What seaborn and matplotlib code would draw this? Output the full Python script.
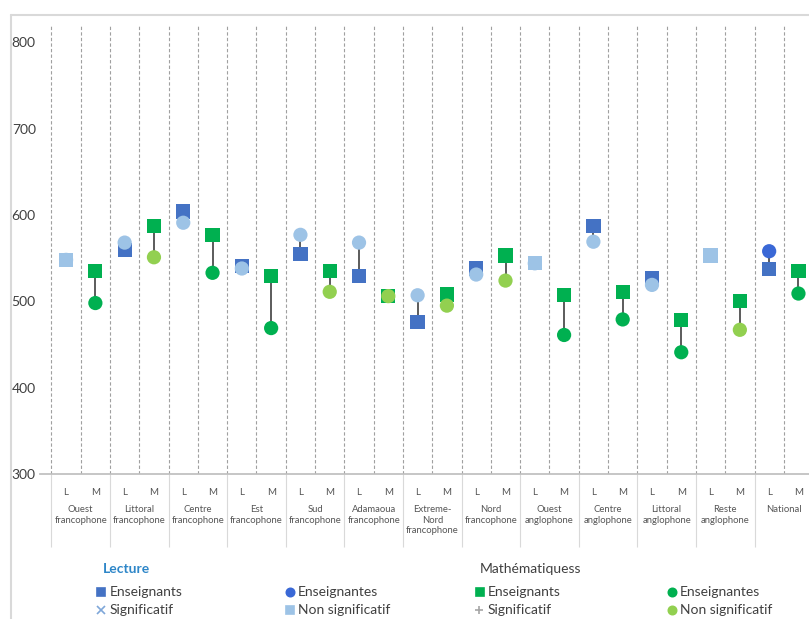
import numpy as np
import pandas as pd
import matplotlib
matplotlib.use("Agg")
import matplotlib.pyplot as plt
import seaborn as sns
from matplotlib.lines import Line2D

sns.set_theme(style="white")
plt.rcParams['font.family'] = ['Lato', 'DejaVu Sans']

# donnees
regions = ['Ouest\nfrancophone', 'Littoral\nfrancophone', 'Centre\nfrancophone', 'Est\nfrancophone',
           'Sud\nfrancophone', 'Adamaoua\nfrancophone', 'Extreme-\nNord\nfrancophone', 'Nord\nfrancophone',
           'Ouest\nanglophone', 'Centre\nanglophone', 'Littoral\nanglophone', 'Reste\nanglophone', 'National']
lecture_h = [548, 559, 604, 541, 555, 529, 476, 538, 544, 587, 527, 553, 537]
lecture_f = [548, 568, 591, 538, 577, 568, 507, 531, 544, 569, 519, 553, 558]
maths_h = [535, 587, 577, 529, 535, 506, 508, 553, 507, 511, 478, 500, 535]
maths_f = [498, 551, 533, 469, 511, 506, 495, 524, 461, 479, 441, 467, 509]
sig_lecture_h = [False, True, True, True, True, True, True, True, False, True, True, False, True]
sig_lecture_f = [False] * 12 + [True]
sig_maths_h = [True] * 13
sig_maths_f = [True, False, True, True, False, False, False, False, True, True, True, False, True]
yticks = [300, 400, 500, 600, 700, 800]

couleurs = {'L_h_sig': '#4472c4', 'L_f_sig': '#3a68d6', 'L_ns': '#9dc3e6',
            'M_sig': '#00b050', 'M_ns': '#92d050'}

def teinte(disc, genre, sig):
    if disc == 'L':
        if not sig:
            return 'L_ns'
        return 'L_h_sig' if genre == 'Enseignants' else 'L_f_sig'
    return 'M_sig' if sig else 'M_ns'

# tableau long : carres d'abord, cercles ensuite (dessines par-dessus)
lignes = []
for genre, vl, vm, sl, sm in [('Enseignants', lecture_h, maths_h, sig_lecture_h, sig_maths_h),
                              ('Enseignantes', lecture_f, maths_f, sig_lecture_f, sig_maths_f)]:
    for i in range(len(regions)):
        lignes.append({'pos': 2 * i, 'score': vl[i], 'genre': genre, 'teinte': teinte('L', genre, sl[i])})
        lignes.append({'pos': 2 * i + 1, 'score': vm[i], 'genre': genre, 'teinte': teinte('M', genre, sm[i])})
df = pd.DataFrame(lignes)

W, H = 809, 619
fig = plt.figure(figsize=(W / 100, H / 100), dpi=100)
ax = fig.add_axes([40 / W, 1 - 474 / H, 769 / W, 449 / H])

n = 2 * len(regions)
# lignes pointillees entre les categories
ax.vlines(np.arange(-0.5, n), 300, 820, colors='#a0a0a0', linestyles=(0, (3, 2)), lw=0.8, zorder=0)

# liaisons enseignants / enseignantes
piv = df.pivot(index='pos', columns='genre', values='score')
ax.vlines(piv.index, piv['Enseignants'], piv['Enseignantes'], color='#404040', lw=1.2, zorder=1)

sns.scatterplot(data=df, x='pos', y='score', hue='teinte', palette=couleurs, style='genre',
                markers={'Enseignants': 's', 'Enseignantes': 'o'}, s=105, linewidth=0,
                legend=False, ax=ax, zorder=3)

ax.set_xlim(-0.89, 25.36)
ax.set_ylim(300, 820)
ax.set_yticks(yticks)
ax.set_xticks([])
ax.set_xlabel('')
ax.set_ylabel('')
ax.tick_params(axis='y', length=0, pad=3, labelsize=10, labelcolor='#404040')
for s in ['top', 'right', 'left']:
    ax.spines[s].set_visible(False)
ax.spines['bottom'].set_color('#bfbfbf')

# etiquettes de categories
tr = ax.get_xaxis_transform()
for i, nom in enumerate(regions):
    ax.text(2 * i, -0.042, 'L', transform=tr, ha='center', va='center', fontsize=7, color='#555555')
    ax.text(2 * i + 1, -0.042, 'M', transform=tr, ha='center', va='center', fontsize=7, color='#555555')
    ax.text(2 * i + 0.5, -0.070, nom, transform=tr, ha='center', va='top', fontsize=6.8,
            color='#555555', linespacing=1.2)
ax.vlines(np.arange(-0.5, n + 1, 2), -0.163, 0, transform=tr, colors='#d9d9d9', lw=0.8, clip_on=False)

# cadre
fig.add_artist(Line2D([11 / W, 1], [1 - 15 / H] * 2, color='#d9d9d9', lw=1.5, transform=fig.transFigure))
fig.add_artist(Line2D([11 / W] * 2, [0, 1 - 15 / H], color='#d9d9d9', lw=1.5, transform=fig.transFigure))

# legende
def marque(px, py, m, c, ms=6):
    fig.add_artist(Line2D([px / W], [1 - py / H], marker=m, color=c, markersize=ms, lw=0,
                          markeredgewidth=1.2, transform=fig.transFigure))

def texte(px, py, t, color='#404040', **kw):
    fig.text(px / W, 1 - py / H, t, va='center', ha='left', fontsize=10, color=color, **kw)

r1, r2 = 592, 610
texte(103, 569, 'Lecture', color='#2e86c8', fontweight='bold')
texte(480, 569, 'Mathématiquess')
marque(101, r1, 's', couleurs['L_h_sig'])
texte(110, r1, 'Enseignants')
marque(290, r1, 'o', couleurs['L_f_sig'])
texte(298, r1, 'Enseignantes')
marque(101, r2, 'x', '#7fa7d9')
texte(110, r2, 'Significatif')
marque(290, r2, 's', couleurs['L_ns'])
texte(298, r2, 'Non significatif')
marque(480, r1, 's', couleurs['M_sig'])
texte(488, r1, 'Enseignants')
marque(672, r1, 'o', couleurs['M_sig'])
texte(680, r1, 'Enseignantes')
marque(479, r2, '+', '#a6a6a6')
texte(488, r2, 'Significatif')
marque(672, r2, 'o', couleurs['M_ns'])
texte(680, r2, 'Non significatif')

fig.savefig('out.png', dpi=100)
